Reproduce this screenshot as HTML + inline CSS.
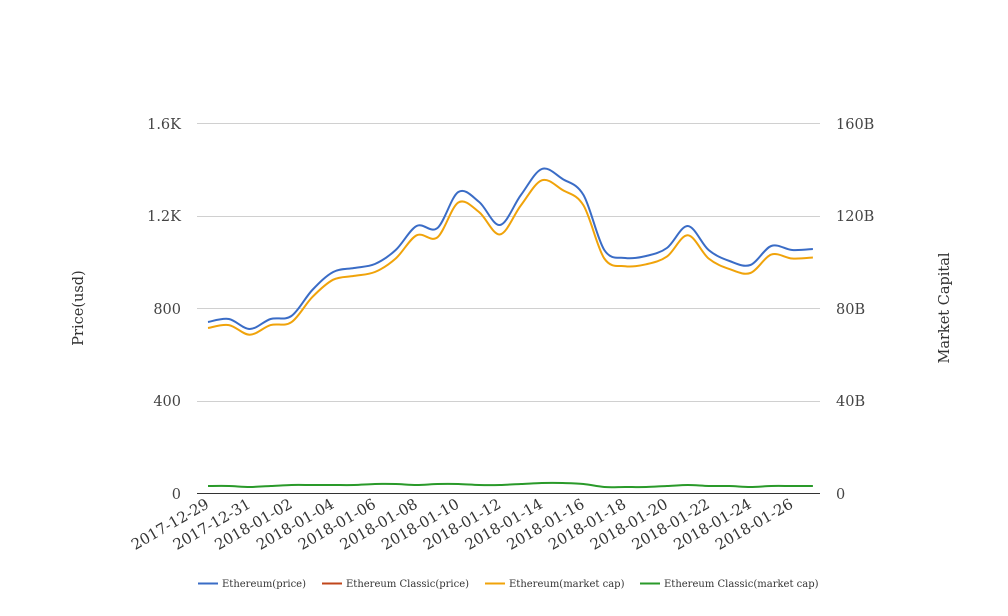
<!DOCTYPE html>
<html><head><meta charset="utf-8"><style>
html,body{margin:0;padding:0;background:#fff;}
svg{display:block;font-family:"DejaVu Serif","Liberation Serif",serif;}
</style></head><body>
<svg id="s" width="1008" height="616" viewBox="0 0 1008 616" xmlns="http://www.w3.org/2000/svg">
<g stroke="#d0d0d0" stroke-width="1">
<line x1="197" x2="820" y1="123.5" y2="123.5"/>
<line x1="197" x2="820" y1="216.5" y2="216.5"/>
<line x1="197" x2="820" y1="308.5" y2="308.5"/>
<line x1="197" x2="820" y1="401.5" y2="401.5"/>
</g>
<line x1="197" x2="820" y1="493.5" y2="493.5" stroke="#333" stroke-width="1"/>
<g font-size="14.5" fill="#444" text-anchor="end">
<text x="181" y="129">1.6K</text>
<text x="181" y="221">1.2K</text>
<text x="181" y="314">800</text>
<text x="181" y="406">400</text>
<text x="181" y="499">0</text>
</g>
<g font-size="14.5" fill="#444">
<text x="836" y="129">160B</text>
<text x="836" y="221">120B</text>
<text x="836" y="314">80B</text>
<text x="836" y="406">40B</text>
<text x="836" y="499">0</text>
</g>
<text transform="translate(83,308) rotate(-90)" font-size="14.5" fill="#333" text-anchor="middle">Price(usd)</text>
<text transform="translate(949,308) rotate(-90)" font-size="14.5" fill="#333" text-anchor="middle">Market Capital</text>
<g id="xl" font-size="15" fill="#333" text-anchor="end"></g>
<g id="lines" fill="none" stroke-width="2"></g>
<g font-size="10" fill="#333">
<line x1="198" x2="218" y1="583.5" y2="583.5" stroke="#3a6cc6" stroke-width="2"/>
<text x="222" y="587">Ethereum(price)</text>
<line x1="322" x2="342" y1="583.5" y2="583.5" stroke="#c0461b" stroke-width="2"/>
<text x="346" y="587">Ethereum Classic(price)</text>
<line x1="485" x2="505" y1="583.5" y2="583.5" stroke="#f0a30a" stroke-width="2"/>
<text x="509" y="587">Ethereum(market cap)</text>
<line x1="640" x2="660" y1="583.5" y2="583.5" stroke="#2a9a2a" stroke-width="2"/>
<text x="664" y="587">Ethereum Classic(market cap)</text>
</g>
</svg>
<script>
var NS="http://www.w3.org/2000/svg";
var labels=["2017-12-29","2017-12-31","2018-01-02","2018-01-04","2018-01-06","2018-01-08","2018-01-10","2018-01-12","2018-01-14","2018-01-16","2018-01-18","2018-01-20","2018-01-22","2018-01-24","2018-01-26"];
var xl=document.getElementById("xl");
labels.forEach(function(l,i){var x=210+41.72*i;var t=document.createElementNS(NS,"text");
t.setAttribute("transform","translate("+x+",507) rotate(-30)");t.textContent=l;xl.appendChild(t);});
var blue=[322,319,329,319,316,290,272,268,264,250,226,228,192,202,225,195,169,179,195,250,258,256,248,226,250,261,265,246,250,249];
var green=[486,486,487,486,485,485,485,485,484,484,485,484,484,485,485,484,483,483,484,487,487,487,486,485,486,486,487,486,486,486];
function X(i){return 208+20.86*i;}
function path(ys){var p=ys.map(function(y,i){return [X(i),y];});var d="M"+p[0][0]+","+p[0][1];
for(var i=0;i<p.length-1;i++){var p0=p[Math.max(0,i-1)],p1=p[i],p2=p[i+1],p3=p[Math.min(p.length-1,i+2)];
var c1=[p1[0]+(p2[0]-p0[0])/6,p1[1]+(p2[1]-p0[1])/6],c2=[p2[0]-(p3[0]-p1[0])/6,p2[1]-(p3[1]-p1[1])/6];
d+=" C"+c1[0].toFixed(1)+","+c1[1].toFixed(1)+" "+c2[0].toFixed(1)+","+c2[1].toFixed(1)+" "+p2[0].toFixed(1)+","+p2[1].toFixed(1);}
return d;}
var g=document.getElementById("lines");
function add(ys,c){var e=document.createElementNS(NS,"path");e.setAttribute("d",path(ys));e.setAttribute("stroke",c);g.appendChild(e);}
add(blue,"#3a6cc6");
add(blue.map(function(y){return 493-(493-y)*0.965;}),"#f0a30a");
add(green,"#2a9a2a");
</script>
</body></html>
